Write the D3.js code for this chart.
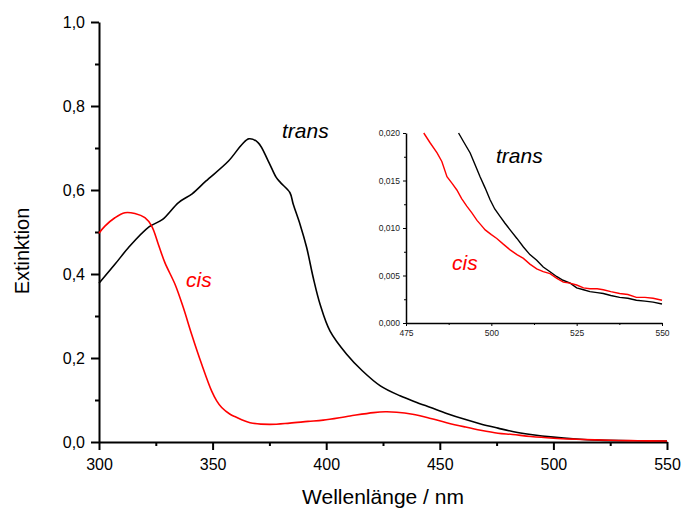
<!DOCTYPE html>
<html><head><meta charset="utf-8">
<script src="https://cdn.jsdelivr.net/npm/d3@7"></script>
<style>body{margin:0;background:#fff}svg{display:block}text{font-family:"Liberation Sans",Arial,sans-serif}</style>
</head><body>
<svg id="c" width="681" height="508"></svg>
<script>
// Main chart data
const transWl = [300,307,313,322,328,335,341,347,357,363,366,370,374.5,378,380,384,385.5,388.5,391.4,394.3,397.3,401.7,409,416,424,432.5,439,446,453,461,468,475.6,482,490,500,510,520,535,550];
const transA  = [0.378,0.423,0.463,0.512,0.530,0.570,0.591,0.621,0.669,0.709,0.722,0.713,0.669,0.630,0.617,0.594,0.566,0.518,0.463,0.391,0.328,0.264,0.209,0.169,0.133,0.110,0.096,0.082,0.068,0.054,0.043,0.033,0.025,0.018,0.0115,0.0072,0.0045,0.0028,0.002];
const cisWl = [300,302.6,307,311.4,315.8,320.2,323.2,326.1,329,333.5,337.1,340.8,345.2,349.6,351.8,354,357.7,360,366.5,375,384,392,398.7,410.5,420.8,426,431,438,446,453,461,468,475.6,482,490,500,510,525,537,550];
const cisA  = [0.497,0.514,0.534,0.546,0.544,0.534,0.514,0.471,0.427,0.375,0.320,0.256,0.185,0.121,0.098,0.082,0.066,0.060,0.046,0.042,0.045,0.049,0.052,0.062,0.070,0.072,0.071,0.066,0.056,0.046,0.036,0.028,0.021,0.018,0.013,0.0090,0.0066,0.0040,0.0031,0.0024];
// Inset data (zoomed 475-550 nm)
const insetCisWl = [480.2,482,484.1,485.5,487,488.5,489.9,491.3,492.8,494.3,495.8,497,498.2,500,501.6,503.5,505.5,507.5,509.4,511.3,513.3,515.2,517.2,519.2,521.1,523,525,527,528.9,531,532.8,535,537.6,540,542.5,545,547.4,550];
const insetCisA  = [0.0200,0.0190,0.0179,0.0170,0.0154,0.0147,0.0140,0.0131,0.0123,0.0116,0.0108,0.0103,0.0098,0.0093,0.0089,0.0083,0.0077,0.0072,0.0068,0.0062,0.0057,0.0054,0.0052,0.0047,0.0043,0.0042,0.0040,0.0037,0.0036,0.0036,0.0035,0.0033,0.0031,0.0030,0.0027,0.0027,0.0026,0.0024];
const insetTransWl = [490.4,492,493.8,495.3,496.7,498.2,499.6,501,502.6,504,505.5,507.5,509.4,511.3,513.3,515.2,517.2,519.1,521,523.1,525,527,528.9,531,532.8,535,537.6,540,542.5,545,547.4,550];
const insetTransA  = [0.0200,0.0190,0.0179,0.0166,0.0154,0.0142,0.0130,0.0120,0.0112,0.0105,0.0098,0.0089,0.0080,0.0072,0.0066,0.0059,0.0054,0.0049,0.0045,0.0042,0.0037,0.0035,0.0033,0.0032,0.0031,0.0029,0.0027,0.0026,0.0024,0.0023,0.0022,0.0020];
const mainXTicks = [300,350,400,450,500,550];
const mainYTicks = [0,0.2,0.4,0.6,0.8,1.0];
const insetXTicks = [475,500,525,550];
const insetYTicks = [0,0.005,0.010,0.015,0.020];

const svg = d3.select("#c");
const comma = f => d => d3.format(f)(d).replace(".", ",");

// Main scales
const x = d3.scaleLinear([300,550],[99,667]);
const y = d3.scaleLinear([0,1],[442,22]);

// Minor ticks
svg.append("g").attr("transform","translate(0,442)")
  .call(d3.axisBottom(x).tickValues(d3.range(325,550,50)).tickSize(4).tickFormat("").tickSizeOuter(0))
  .call(g=>g.select(".domain").remove())
  .call(g=>g.selectAll("line").attr("stroke-width",2));
svg.append("g").attr("transform","translate(99,0)")
  .call(d3.axisLeft(y).tickValues(d3.range(0.1,1,0.2)).tickSize(4).tickFormat("").tickSizeOuter(0))
  .call(g=>g.select(".domain").remove())
  .call(g=>g.selectAll("line").attr("stroke-width",2));

const gx = svg.append("g").attr("transform","translate(0,442)")
  .call(d3.axisBottom(x).tickValues(mainXTicks).tickSize(8).tickPadding(9).tickSizeOuter(0));
gx.select(".domain").attr("stroke-width",2);
gx.selectAll("line").attr("stroke-width",2);
gx.selectAll("text").attr("font-size",16).attr("fill","#000");

const gy = svg.append("g").attr("transform","translate(99,0)")
  .call(d3.axisLeft(y).tickValues(mainYTicks).tickSize(8).tickPadding(6).tickFormat(comma(".1f")).tickSizeOuter(0));
gy.select(".domain").attr("stroke-width",2);
gy.selectAll("line").attr("stroke-width",2);
gy.selectAll("text").attr("font-size",16).attr("fill","#000");

svg.append("text").attr("x",383).attr("y",504).attr("text-anchor","middle").attr("font-size",21).text("Wellenlänge / nm");
svg.append("text").attr("transform","translate(29,251) rotate(-90)").attr("text-anchor","middle").attr("font-size",20).text("Extinktion");

const line = d3.line().x(d=>x(d[0])).y(d=>y(d[1])).curve(d3.curveCatmullRom.alpha(0.5));
svg.append("path").attr("d",line(transWl.map((w,i)=>[w,transA[i]]))).attr("fill","none").attr("stroke","#000").attr("stroke-width",1.6);
svg.append("path").attr("d",line(cisWl.map((w,i)=>[w,cisA[i]]))).attr("fill","none").attr("stroke","#ff0000").attr("stroke-width",1.6);

svg.append("text").attr("x",282).attr("y",138).attr("font-size",21).attr("font-style","italic").attr("fill","#000").text("trans");
svg.append("text").attr("x",186).attr("y",287).attr("font-size",21).attr("font-style","italic").attr("fill","#ff0000").text("cis");

// Inset
const xi = d3.scaleLinear([475,550],[406,662]);
const yi = d3.scaleLinear([0,0.02],[323,133]);

svg.append("g").attr("transform","translate(0,323)")
  .call(d3.axisBottom(xi).tickValues([487.5,512.5,537.5]).tickSize(2).tickFormat("").tickSizeOuter(0))
  .call(g=>g.select(".domain").remove());
svg.append("g").attr("transform","translate(406,0)")
  .call(d3.axisLeft(yi).tickValues([0.0025,0.0075,0.0125,0.0175]).tickSize(2).tickFormat("").tickSizeOuter(0))
  .call(g=>g.select(".domain").remove());

const gxi = svg.append("g").attr("transform","translate(0,323)")
  .call(d3.axisBottom(xi).tickValues(insetXTicks).tickSize(3).tickPadding(4).tickSizeOuter(0));
gxi.select(".domain").attr("stroke-width",1.5);
gxi.selectAll("text").attr("font-size",8.5).attr("fill","#222");
const gyi = svg.append("g").attr("transform","translate(406,0)")
  .call(d3.axisLeft(yi).tickValues(insetYTicks).tickSize(3).tickPadding(3).tickFormat(comma(".3f")).tickSizeOuter(0));
gyi.select(".domain").attr("stroke-width",1.5);
gyi.selectAll("text").attr("font-size",8.5).attr("fill","#222");

const lineI = d3.line().x(d=>xi(d[0])).y(d=>yi(d[1]));
svg.append("path").attr("d",lineI(insetTransWl.map((w,i)=>[w,insetTransA[i]]))).attr("fill","none").attr("stroke","#000").attr("stroke-width",1.4);
svg.append("path").attr("d",lineI(insetCisWl.map((w,i)=>[w,insetCisA[i]]))).attr("fill","none").attr("stroke","#ff0000").attr("stroke-width",1.4);

svg.append("text").attr("x",496).attr("y",163).attr("font-size",21).attr("font-style","italic").attr("fill","#000").text("trans");
svg.append("text").attr("x",452).attr("y",270).attr("font-size",21).attr("font-style","italic").attr("fill","#ff0000").text("cis");
</script>
</body></html>
